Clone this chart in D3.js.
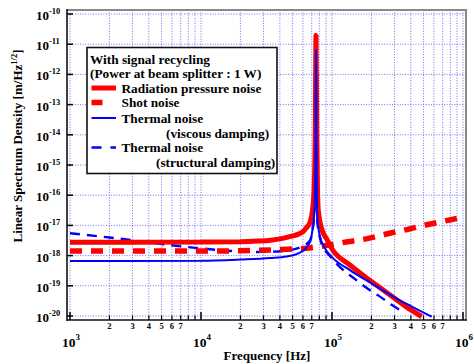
<!DOCTYPE html>
<html>
<head>
<meta charset="utf-8">
<script src="https://cdn.jsdelivr.net/npm/d3@7"></script>
<style>
  html, body { margin: 0; padding: 0; background: #fff; }
  svg { display: block; }
  text { font-family: "Liberation Serif", "Times New Roman", serif; font-weight: bold; fill: #000; }
</style>
</head>
<body>
<svg id="chart" width="474" height="364"></svg>
<script>
// ---------- data ----------
const xTickDecades = [3, 4, 5, 6];
const xMinorLabels = [2, 3, 4, 5, 6, 7];
const yTickExps = [-20, -19, -18, -17, -16, -15, -14, -13, -12, -11, -10];

// Radiation pressure noise
const rpFreq = [1e3, 1e4, 2e4, 2.7e4, 3.4e4, 4.2e4, 5e4, 5.6e4, 6e4, 6.4e4, 6.8e4, 7.1e4, 7.3e4, 7.45e4, 7.55e4, 7.65e4, 7.85e4, 8.33e4, 9.1e4, 1e5, 1.37e5, 2e5, 3e5, 4e5, 4.84e5];
const rpLog  = [-17.56, -17.55, -17.54, -17.52, -17.49, -17.43, -17.35, -17.28, -17.21, -17.07, -16.90, -16.49, -15.83, -14.0, -10.70, -14.0, -16.49, -17.10, -17.45, -17.78, -18.31, -18.86, -19.41, -19.80, -20.02];

// Shot noise
const snFreq = [1e3, 1e4, 2e4, 4e4, 7e4, 1.2e5, 1.9e5, 2.7e5, 3.8e5, 5.4e5, 7.9e5, 1e6];
const snLog  = [-17.85, -17.85, -17.84, -17.80, -17.74, -17.57, -17.43, -17.27, -17.13, -16.97, -16.82, -16.72];

// Thermal noise (viscous damping)
const tvFreq = [1e3, 1e4, 2e4, 3.4e4, 4.5e4, 5.2e4, 5.8e4, 6.3e4, 6.8e4, 7.1e4, 7.35e4, 7.48e4, 7.55e4, 7.62e4, 7.73e4, 8.1e4, 8.85e4, 1e5, 1.37e5, 2e5, 3e5, 4e5, 5.77e5];
const tvLog  = [-18.18, -18.17, -18.13, -18.08, -18.03, -17.97, -17.88, -17.76, -17.54, -17.15, -16.49, -14.5, -11.19, -14.5, -16.82, -17.37, -17.76, -18.05, -18.48, -18.92, -19.38, -19.67, -20.02];

// Thermal noise (structural damping)
const tsFreq = [1e3, 2e3, 3.4e3, 5e3, 1e4, 1.75e4, 2.5e4, 3.5e4, 5e4, 6e4, 6.8e4, 7.1e4, 7.35e4, 7.48e4, 7.55e4, 7.62e4, 7.73e4, 8.1e4, 8.85e4, 9.5e4, 1.12e5, 1.5e5, 2e5, 2.4e5, 2.83e5, 3.3e5];
const tsLog  = [-17.26, -17.40, -17.52, -17.62, -17.76, -17.85, -17.88, -17.87, -17.80, -17.68, -17.50, -17.15, -16.5, -14.6, -11.6, -14.6, -16.85, -17.42, -17.82, -17.98, -18.33, -18.78, -19.18, -19.40, -19.62, -19.80];

const legendTitle = ["With signal recycling", "(Power at beam splitter : 1 W)"];

// ---------- layout ----------
const svg = d3.select("#chart");
const frame = { l: 67, r: 466, t: 10, b: 320 };
const x = d3.scaleLog().domain([1e3, 1e6]).range([70, 463]);
const y = d3.scaleLog().domain([1e-20, 1e-10]).range([316, 14]);

svg.append("rect").attr("width", 474).attr("height", 364).attr("fill", "#fff");

svg.append("defs").append("clipPath").attr("id", "clip")
  .append("rect").attr("x", frame.l).attr("y", frame.t)
  .attr("width", frame.r - frame.l).attr("height", frame.b - frame.t);

// grid
const gridColor = "#6f6ff5";
const g = svg.append("g");
const xGridVals = [];
xTickDecades.slice(0, 3).forEach(d => { for (let k = 1; k <= 9; k++) xGridVals.push(k * Math.pow(10, d)); });
xGridVals.push(1e6);
g.selectAll(".vg").data(xGridVals).enter().append("line")
  .attr("x1", d => x(d)).attr("x2", d => x(d))
  .attr("y1", frame.t).attr("y2", frame.b)
  .attr("stroke", gridColor).attr("stroke-width", 1).attr("stroke-dasharray", "1,1.6");
g.selectAll(".hg").data(yTickExps).enter().append("line")
  .attr("x1", frame.l).attr("x2", frame.r)
  .attr("y1", d => y(Math.pow(10, d))).attr("y2", d => y(Math.pow(10, d)))
  .attr("stroke", gridColor).attr("stroke-width", 1).attr("stroke-dasharray", "1,1.6");

// curves
const line = d3.line().x(d => x(d[0])).y(d => y(d[1])).curve(d3.curveMonotoneX);
const toPts = (fs, ls) => fs.map((f, i) => [f, Math.pow(10, ls[i])]);
const curves = svg.append("g").attr("clip-path", "url(#clip)");

curves.append("path").datum(toPts(tsFreq, tsLog)).attr("d", line)
  .attr("fill", "none").attr("stroke", "#0000ff").attr("stroke-width", 2.4)
  .attr("stroke-dasharray", "10,7");
curves.append("path").datum(toPts(snFreq, snLog)).attr("d", line)
  .attr("fill", "none").attr("stroke", "#ff0000").attr("stroke-width", 5.5)
  .attr("stroke-dasharray", "12,9");
curves.append("path").datum(toPts(rpFreq, rpLog)).attr("d", line)
  .attr("fill", "none").attr("stroke", "#ff0000").attr("stroke-width", 5)
  .attr("stroke-linejoin", "bevel");
curves.append("path").datum(toPts(tvFreq, tvLog)).attr("d", line)
  .attr("fill", "none").attr("stroke", "#0000ff").attr("stroke-width", 2)
  .attr("stroke-linejoin", "bevel");

// frame
svg.append("line").attr("x1", frame.l).attr("x2", frame.r).attr("y1", frame.t).attr("y2", frame.t)
  .attr("stroke", "#888").attr("stroke-width", 2);
svg.append("line").attr("x1", frame.r).attr("x2", frame.r).attr("y1", frame.t - 1).attr("y2", frame.b)
  .attr("stroke", "#888").attr("stroke-width", 2);
svg.append("line").attr("x1", frame.l).attr("x2", frame.l).attr("y1", frame.t - 1).attr("y2", frame.b + 1)
  .attr("stroke", "#111").attr("stroke-width", 1.6);
svg.append("line").attr("x1", frame.l).attr("x2", frame.r + 1).attr("y1", frame.b).attr("y2", frame.b)
  .attr("stroke", "#111").attr("stroke-width", 1.6);

// y ticks + labels
yTickExps.forEach(e => {
  const yy = y(Math.pow(10, e));
  svg.append("line").attr("x1", frame.l).attr("x2", frame.l + 6).attr("y1", yy).attr("y2", yy)
    .attr("stroke", "#000").attr("stroke-width", 1.5);
  const t = svg.append("text").attr("x", 36).attr("y", yy + 6).attr("font-size", 13);
  t.append("tspan").text("10");
  t.append("tspan").attr("font-size", 8.5).attr("dy", -6).text(String(e));
});

// x ticks + labels
xTickDecades.forEach(d => {
  const xx = x(Math.pow(10, d));
  svg.append("line").attr("x1", xx).attr("x2", xx).attr("y1", frame.b).attr("y2", frame.b - 8)
    .attr("stroke", "#000").attr("stroke-width", 1.5);
  const t = svg.append("text").attr("x", xx - 8).attr("y", 347).attr("font-size", 13.5);
  t.append("tspan").text("10");
  t.append("tspan").attr("font-size", 9).attr("dy", -7).text(String(d));
});
xTickDecades.slice(0, 3).forEach(d => {
  for (let k = 2; k <= 9; k++) {
    const xx = x(k * Math.pow(10, d));
    svg.append("line").attr("x1", xx).attr("x2", xx).attr("y1", frame.b).attr("y2", frame.b - 4.5)
      .attr("stroke", "#000").attr("stroke-width", 1.2);
  }
  xMinorLabels.forEach(k => {
    svg.append("text").attr("x", x(k * Math.pow(10, d))).attr("y", 329)
      .attr("font-size", 8.5).attr("text-anchor", "middle").text(String(k));
  });
});

// axis titles
svg.append("text").attr("x", 267).attr("y", 360).attr("font-size", 13)
  .attr("text-anchor", "middle").text("Frequency [Hz]");
const yl = svg.append("text").attr("transform", "translate(22,146) rotate(-90)")
  .attr("font-size", 13).attr("text-anchor", "middle");
yl.append("tspan").text("Linear Spectrum Density [m/Hz");
yl.append("tspan").attr("font-size", 8.5).attr("dy", -5).text("1/2");
yl.append("tspan").attr("dy", 5).text("]");

// legend
const lg = svg.append("g");
lg.append("rect").attr("x", 87).attr("y", 47.5).attr("width", 190).attr("height", 126)
  .attr("fill", "#fff").attr("stroke", "#111").attr("stroke-width", 1.6);
lg.append("text").attr("x", 90).attr("y", 63.5).attr("font-size", 13.3).text(legendTitle[0]);
lg.append("text").attr("x", 90).attr("y", 78).attr("font-size", 13.3).text(legendTitle[1]);
const items = [
  { label: "Radiation pressure noise", sub: null, color: "#ff0000", w: 5, dash: null, yb: 92.5 },
  { label: "Shot noise", sub: null, color: "#ff0000", w: 5.5, dash: "11,30", yb: 107 },
  { label: "Thermal noise", sub: "(viscous damping)", subx: 166, color: "#0000ff", w: 2, dash: null, yb: 122.5 },
  { label: "Thermal noise", sub: "(structural damping)", subx: 156, color: "#0000ff", w: 2.4, dash: "10,9", yb: 152 }
];
items.forEach(it => {
  lg.append("line").attr("x1", 91.5).attr("x2", 116).attr("y1", it.yb - 4.5).attr("y2", it.yb - 4.5)
    .attr("stroke", it.color).attr("stroke-width", it.w)
    .attr("stroke-dasharray", it.dash);
  lg.append("text").attr("x", 121.5).attr("y", it.yb).attr("font-size", 13.3).text(it.label);
  if (it.sub) lg.append("text").attr("x", it.subx).attr("y", it.yb + 15).attr("font-size", 13.3).text(it.sub);
});
</script>
</body>
</html>
